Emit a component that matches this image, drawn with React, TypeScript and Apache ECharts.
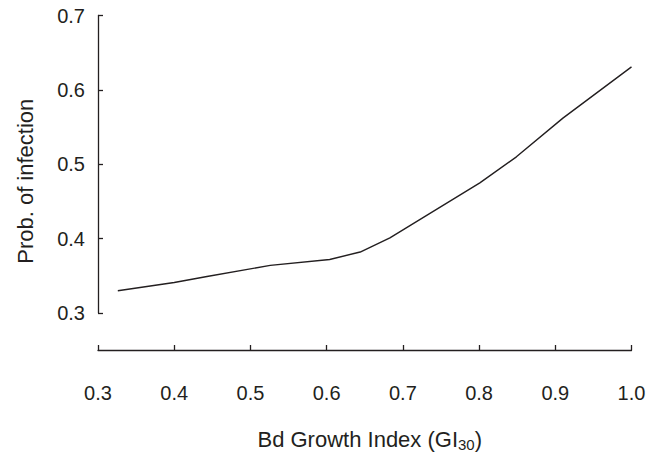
import React, { useEffect, useRef } from "react";
import * as echarts from "echarts";

const growthIndex = [0.326, 0.4, 0.443, 0.526, 0.604, 0.644, 0.683, 0.801, 0.849, 0.91, 1.0];
const probInfection = [0.33, 0.341, 0.349, 0.364, 0.372, 0.382, 0.401, 0.475, 0.51, 0.562, 0.631];
const xTicks = [0.3, 0.4, 0.5, 0.6, 0.7, 0.8, 0.9, 1.0];
const yTicks = [0.3, 0.4, 0.5, 0.6, 0.7];

const FONT = "Liberation Sans, Arial, sans-serif";
const INK = "#231f20";

export default function App() {
  const ref = useRef<HTMLDivElement>(null);
  useEffect(() => {
    if (!ref.current) return;
    const chart = echarts.init(ref.current, null, { renderer: "svg" });
    chart.setOption({
      animation: false,
      backgroundColor: "#ffffff",
      grid: { left: 98, right: 27.5, top: 15.5, bottom: 143.5, containLabel: false },
      xAxis: {
        type: "value",
        min: xTicks[0],
        max: xTicks[xTicks.length - 1],
        interval: 0.1,
        offset: 37,
        splitLine: { show: false },
        axisLine: { show: true, lineStyle: { color: INK, width: 1.3 } },
        axisTick: { show: true, inside: true, length: 5, lineStyle: { color: INK, width: 1.3 } },
        axisLabel: {
          margin: 33,
          fontSize: 20,
          fontFamily: FONT,
          color: INK,
          formatter: (v: number) => v.toFixed(1),
        },
        name: "{a|Bd Growth Index (GI}{s|30}{a|)}",
        nameLocation: "middle",
        nameGap: 76,
        nameTextStyle: {
          padding: [0, 0, 0, 10],
          rich: {
            a: { fontSize: 22, fontFamily: FONT, color: INK },
            s: { fontSize: 15, fontFamily: FONT, color: INK, verticalAlign: "bottom", padding: [11, 0, 0, 0] },
          },
        },
      },
      yAxis: {
        type: "value",
        min: yTicks[0],
        max: yTicks[yTicks.length - 1],
        interval: 0.1,
        splitLine: { show: false },
        axisLine: { show: true, lineStyle: { color: INK, width: 1.3 } },
        axisTick: { show: true, inside: true, length: 5, lineStyle: { color: INK, width: 1.3 } },
        axisLabel: {
          margin: 13,
          fontSize: 20,
          fontFamily: FONT,
          color: INK,
          formatter: (v: number) => v.toFixed(1),
        },
        name: "Prob. of infection",
        nameLocation: "middle",
        nameRotate: 90,
        nameGap: 62,
        nameTextStyle: { fontSize: 22, fontFamily: FONT, color: INK, padding: [0, 34, 0, 0] },
      },
      series: [
        {
          type: "line",
          data: growthIndex.map((x, i) => [x, probInfection[i]]),
          showSymbol: false,
          symbol: "none",
          lineStyle: { color: INK, width: 1.4 },
        },
      ],
    });
    return () => chart.dispose();
  }, []);
  return <div ref={ref} style={{ width: 659, height: 457, position: "absolute", left: 0, top: 0 }} />;
}
